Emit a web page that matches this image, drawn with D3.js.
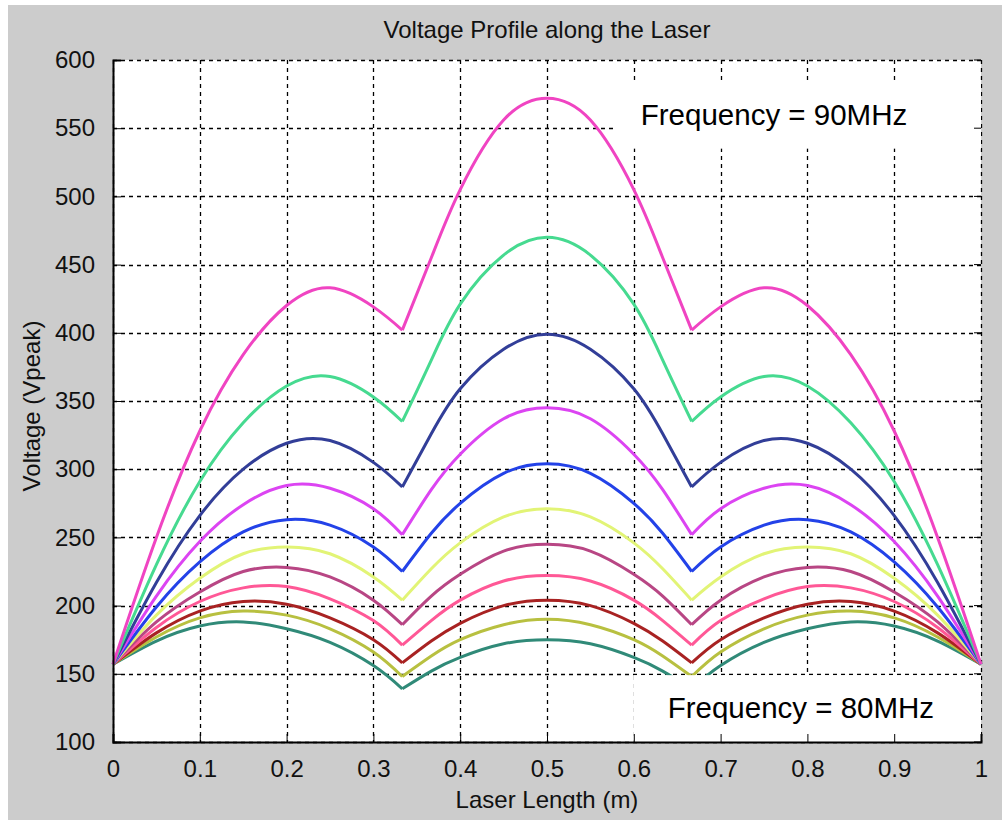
<!DOCTYPE html>
<html>
<head>
<meta charset="utf-8">
<script src="https://cdn.jsdelivr.net/npm/d3@7"></script>
<style>
  body { margin: 0; background: #fff; }
  text { font-family: "Liberation Sans", Arial, sans-serif; fill: #111; }
</style>
</head>
<body>
<div id="chart"></div>
<script>
// Data
// ==============================
let lengths = [0, 0.05, 0.1, 0.15, 0.2, 0.25, 0.3, 0.3333, 0.3667, 0.4, 0.45, 0.5,
               0.55, 0.6, 0.6333, 0.6667, 0.7, 0.75, 0.8, 0.85, 0.9, 0.95, 1];

let v90 = [157, 250, 328, 384, 420, 433, 419, 402, 455, 505, 556, 572, 556, 505, 455, 402, 419, 433, 420, 384, 328, 250, 157];
let v89 = [157, 230, 291, 334, 361, 368, 353, 335, 380, 421, 457, 470, 457, 421, 380, 335, 353, 368, 361, 334, 291, 230, 157];
let v88 = [157, 217, 266, 300, 319, 321, 305, 287, 326, 359, 388, 399, 388, 359, 326, 287, 305, 321, 319, 300, 266, 217, 157];
let v87 = [157, 207, 247, 274, 288, 286, 271, 252, 285, 311, 337, 345, 337, 311, 285, 252, 271, 286, 288, 274, 247, 207, 157];
let v86 = [157, 199, 232, 254, 263, 259, 243, 225, 253, 275, 297, 304, 297, 275, 253, 225, 243, 259, 263, 254, 232, 199, 157];
let v85 = [157, 193, 220, 238, 243, 238, 221, 204, 227, 246, 265, 271, 265, 246, 227, 204, 221, 238, 243, 238, 220, 193, 157];
let v84 = [157, 188, 210, 225, 228, 221, 204, 186, 207, 223, 240, 245, 240, 223, 207, 186, 204, 221, 228, 225, 210, 188, 157];
let v83 = [157, 184, 203, 213, 214, 205, 189, 171, 189, 204, 218, 222, 218, 204, 189, 171, 189, 205, 214, 213, 203, 184, 157];
let v82 = [157, 180, 196, 203, 201, 191, 175, 158, 174, 187, 200, 204, 200, 187, 174, 158, 175, 191, 201, 203, 196, 180, 157];
let v81 = [157, 177, 191, 196, 193, 183, 166, 148, 163, 175, 186, 190, 186, 175, 163, 148, 166, 183, 193, 196, 191, 177, 157];
let v80 = [157, 174, 185, 188, 183, 173, 156, 139, 152, 162, 172, 175, 172, 162, 152, 139, 156, 173, 183, 188, 185, 174, 157];

let allSeries = [v80, v81, v82, v83, v84, v85, v86, v87, v88, v89, v90];
let seriesColors = ["#308a78", "#b8c040", "#a82222", "#ff5896", "#b84684",
                    "#e2f476", "#2342e8", "#dc44f2", "#323e98", "#46da90", "#f044c2"];

let xTicks = [0, 0.1, 0.2, 0.3, 0.4, 0.5, 0.6, 0.7, 0.8, 0.9, 1];
let yTicks = [100, 150, 200, 250, 300, 350, 400, 450, 500, 550, 600];

// Set up SVG
// ==============================
let svgWidth = 1002;
let svgHeight = 820;

let margin = { top: 60, right: 21, bottom: 78, left: 113 };
let width = svgWidth - margin.left - margin.right;
let height = svgHeight - margin.top - margin.bottom;

let svg = d3.select("#chart")
    .append("svg")
    .attr("width", svgWidth)
    .attr("height", svgHeight);

// grey figure background
svg.append("rect")
    .attr("x", 8).attr("y", 5)
    .attr("width", svgWidth - 8).attr("height", svgHeight - 5)
    .attr("fill", "#cccccc");

let chartGroup = svg.append("g")
    .attr("transform", `translate(${margin.left}, ${margin.top})`);

chartGroup.append("rect")
    .attr("width", width)
    .attr("height", height)
    .attr("fill", "#fff");

// Scales
// ==============================
let xScale = d3.scaleLinear().domain([0, 1]).range([0, width]);
let yScale = d3.scaleLinear().domain([100, 600]).range([height, 0]);

// Grid
// ==============================
chartGroup.append("g")
    .selectAll("line")
    .data(xTicks)
    .enter()
    .append("line")
    .attr("x1", d => Math.round(xScale(d)) + 0.5).attr("x2", d => Math.round(xScale(d)) + 0.5)
    .attr("y1", 0).attr("y2", height)
    .attr("stroke", "#000")
    .attr("stroke-width", 1.3)
    .attr("stroke-dasharray", "4,4");

chartGroup.append("g")
    .selectAll("line")
    .data(yTicks)
    .enter()
    .append("line")
    .attr("x1", 0).attr("x2", width)
    .attr("y1", d => Math.round(yScale(d)) + 0.5).attr("y2", d => Math.round(yScale(d)) + 0.5)
    .attr("stroke", "#000")
    .attr("stroke-width", 1.3)
    .attr("stroke-dasharray", "4,4");

// Curves, drawn section by section so the joints stay sharp
// ==============================
let sections = [[0, 7], [7, 15], [15, 22]];
let line = d3.line()
    .x(d => xScale(d[0]))
    .y(d => yScale(d[1]))
    .curve(d3.curveNatural);

allSeries.forEach((values, i) => {
    let pts = lengths.map((x, j) => [x, values[j]]);
    sections.forEach(s => {
        chartGroup.append("path")
            .datum(pts.slice(s[0], s[1] + 1))
            .attr("d", line)
            .attr("fill", "none")
            .attr("stroke", seriesColors[i])
            .attr("stroke-width", 3)
            .attr("stroke-linejoin", "round");
    });
});

// Annotation boxes
// ==============================
chartGroup.append("rect")
    .attr("x", xScale(0.58)).attr("y", yScale(583))
    .attr("width", width - xScale(0.58)).attr("height", yScale(535) - yScale(583))
    .attr("fill", "#fff");
chartGroup.append("text")
    .attr("x", xScale(0.7615)).attr("y", yScale(555) + 4)
    .style("font-size", "29.5px")
    .style("text-anchor", "middle")
    .style("fill", "#000")
    .text("Frequency = 90MHz");

chartGroup.append("rect")
    .attr("x", xScale(0.6)).attr("y", yScale(149))
    .attr("width", width - xScale(0.6)).attr("height", height - yScale(149))
    .attr("fill", "#fff");
chartGroup.append("text")
    .attr("x", xScale(0.7925)).attr("y", yScale(122) + 6)
    .style("font-size", "29.5px")
    .style("text-anchor", "middle")
    .style("fill", "#000")
    .text("Frequency = 80MHz");

// Axes
// ==============================
let xAxis = d3.axisBottom(xScale)
    .tickValues(xTicks)
    .tickSize(-8)
    .tickPadding(18)
    .tickFormat(d3.format("~g"));
let yAxis = d3.axisLeft(yScale)
    .tickValues(yTicks)
    .tickSize(-8)
    .tickPadding(18);

let gx = chartGroup.append("g")
    .attr("transform", `translate(0, ${height})`)
    .call(xAxis);
let gy = chartGroup.append("g")
    .call(yAxis);

[gx, gy].forEach(g => {
    g.select(".domain").attr("stroke", "#000").attr("stroke-width", 2);
    g.selectAll(".tick line").attr("stroke", "#000");
    g.selectAll("text")
        .style("font-size", "24px")
        .style("font-family", "'Liberation Sans', Arial, sans-serif")
        .attr("fill", "#111");
});

// ticks on the right side
chartGroup.append("g")
    .selectAll("line")
    .data(yTicks)
    .enter()
    .append("line")
    .attr("x1", width - 7).attr("x2", width)
    .attr("y1", d => yScale(d)).attr("y2", d => yScale(d))
    .attr("stroke", "#000");

// Titles
// ==============================
chartGroup.append("text")
    .attr("x", width / 2).attr("y", -22)
    .style("font-size", "24px")
    .style("text-anchor", "middle")
    .text("Voltage Profile along the Laser");

chartGroup.append("text")
    .attr("x", width / 2).attr("y", height + 66)
    .style("font-size", "24px")
    .style("text-anchor", "middle")
    .text("Laser Length (m)");

chartGroup.append("text")
    .attr("transform", "rotate(-90)")
    .attr("x", -(406 - margin.top)).attr("y", -73)
    .style("font-size", "24px")
    .style("text-anchor", "middle")
    .text("Voltage (Vpeak)");
</script>
</body>
</html>
